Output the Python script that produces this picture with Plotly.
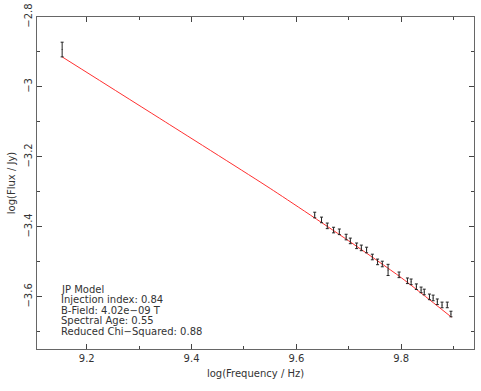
import plotly.graph_objects as go

# observed points: log frequency, log flux, error
log_freq = [9.153, 9.635, 9.648, 9.659, 9.671, 9.682, 9.695, 9.703, 9.715, 9.724,
            9.734, 9.745, 9.755, 9.764, 9.775, 9.796, 9.812, 9.819, 9.829, 9.838,
            9.844, 9.854, 9.861, 9.869, 9.878, 9.888, 9.895]
log_flux = [-2.893, -3.366, -3.380, -3.397, -3.409, -3.414, -3.429, -3.440, -3.454, -3.460,
            -3.466, -3.486, -3.500, -3.506, -3.523, -3.537, -3.554, -3.557, -3.571, -3.580,
            -3.586, -3.600, -3.603, -3.614, -3.623, -3.623, -3.649]
flux_err = [0.021, 0.008, 0.008, 0.008, 0.008, 0.008, 0.008, 0.008, 0.008, 0.008,
            0.008, 0.008, 0.008, 0.008, 0.016, 0.008, 0.008, 0.008, 0.008, 0.008,
            0.008, 0.008, 0.008, 0.008, 0.008, 0.008, 0.008]

# JP model fit curve
model_freq = [9.153, 9.350, 9.550, 9.700, 9.800, 9.896]
model_flux = [-2.914, -3.100, -3.290, -3.440, -3.545, -3.658]

info_lines = ["JP Model", "Injection index: 0.84", "B-Field: 4.02e\u221209 T",
              "Spectral Age: 0.55", "Reduced Chi\u2212Squared: 0.88"]

fig = go.Figure()
fig.add_trace(go.Scatter(x=model_freq, y=model_flux, mode="lines",
                         line=dict(color="#ff3030", width=1, shape="spline", smoothing=0.6)))
fig.add_trace(go.Scatter(x=log_freq, y=log_flux, mode="markers",
                         marker=dict(size=1, color="#222"),
                         error_y=dict(type="data", array=flux_err, color="#222",
                                      thickness=1, width=1.5)))

font = dict(family="DejaVu Sans", size=10, color="#333")
axis_style = dict(showline=True, mirror="ticks", linecolor="#666", linewidth=1,
                  ticks="inside", ticklen=5, tickcolor="#444", showgrid=False,
                  zeroline=False, tickfont=font, dtick=0.2, automargin=False)

fig.update_xaxes(range=[9.105, 9.939], tick0=9.2,
                 minor=dict(ticks="inside", ticklen=3, dtick=0.1, tickcolor="#444"),
                 title=dict(text="log(Frequency / Hz)", font=font, standoff=6),
                 **axis_style)
fig.update_yaxes(range=[-3.749, -2.8], tick0=-2.8, tickangle=-90,
                 ticklabelstandoff=0,
                 minor=dict(ticks="inside", ticklen=3, dtick=0.1, tickcolor="#444"),
                 title=dict(text="log(Flux / Jy)", font=font, standoff=5),
                 **axis_style)

for i, line in enumerate(info_lines):
    fig.add_annotation(text=line, xref="paper", yref="paper", x=0.05,
                       y=(349 - 289 - 10.5 * i) / 332, xanchor="left", yanchor="middle",
                       showarrow=False, font=font)

fig.update_layout(width=481, height=391, showlegend=False,
                  margin=dict(l=37, r=7, t=17, b=42),
                  plot_bgcolor="white", paper_bgcolor="white")

fig.write_html("out.html", config={"displayModeBar": False},
               post_script="document.body.style.margin='0';")
